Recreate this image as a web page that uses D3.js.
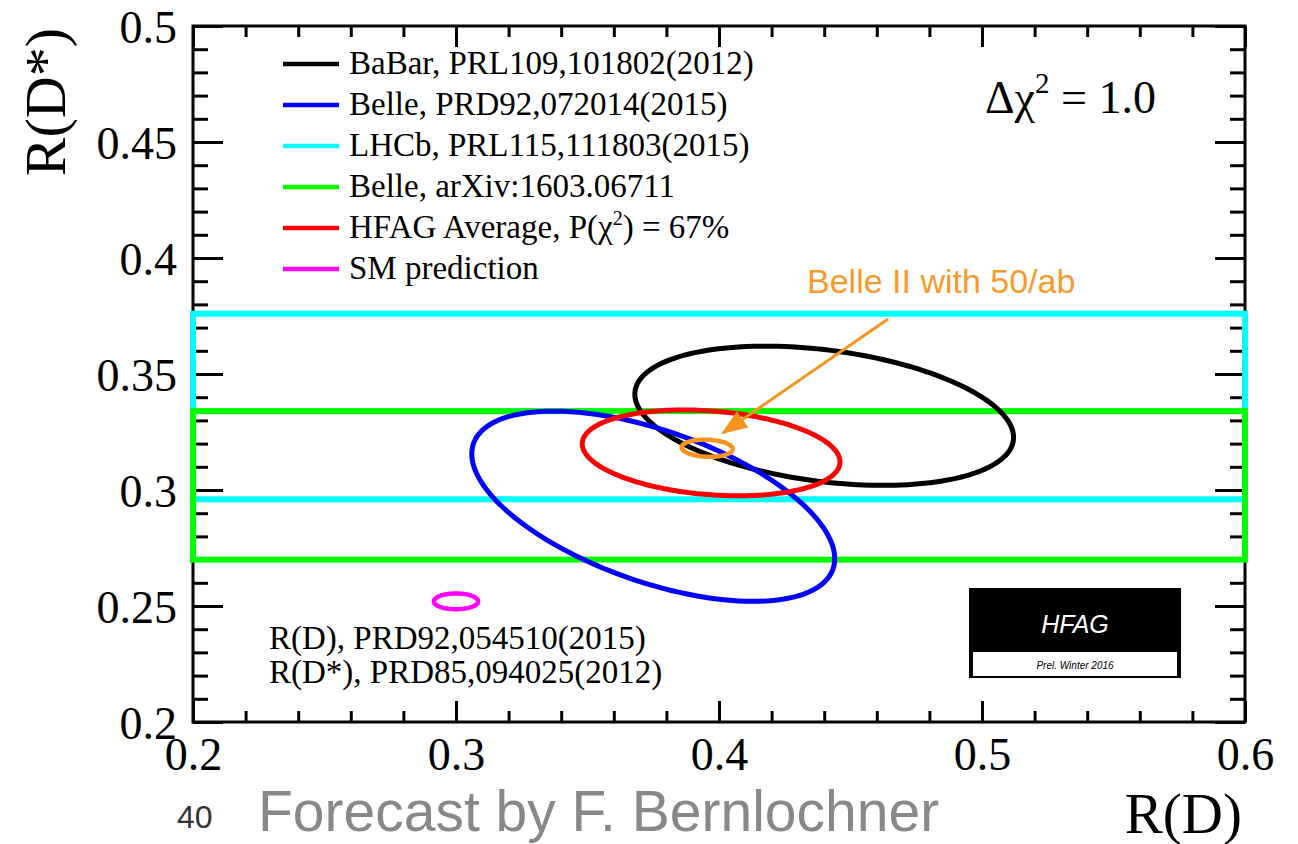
<!DOCTYPE html>
<html>
<head>
<meta charset="utf-8">
<script src="https://cdn.jsdelivr.net/npm/d3@7/dist/d3.min.js"></script>
<style>
  body { margin: 0; background: #fff; }
  svg { display: block; }
  .serif { font-family: "Liberation Serif", "Times New Roman", serif; }
  .sans { font-family: "Liberation Sans", Arial, sans-serif; }
</style>
</head>
<body>
<div id="chart"></div>
<script>
// ---- data ----
// 2D measurements (Delta chi2 = 1 contours)
var ellipseNames = ["BaBar", "Belle 2015", "HFAG Average", "SM", "Belle II 50/ab"];
var ellipseRD = [0.440, 0.375, 0.397, 0.300, 0.3955];
var ellipseRDErr = [0.072, 0.069, 0.049, 0.0084, 0.0097];
var ellipseRDs = [0.332, 0.293, 0.316, 0.252, 0.318];
var ellipseRDsErr = [0.030, 0.041, 0.0185, 0.0034, 0.0037];
var ellipseRho = [-0.31, -0.55, -0.21, 0.0, -0.1];
var ellipseColors = ["#000000", "#0000ff", "#ff0000", "#ff00ff", "#f7941d"];
var ellipseWidths = [5, 5, 5, 4.5, 4.5];

// R(D*)-only measurements (bands)
var bandNames = ["LHCb", "Belle arXiv"];
var bandRDs = [0.336, 0.302];
var bandRDsErr = [0.040, 0.032];
var bandColors = ["#00ffff", "#00ff00"];

// legend
var legendLabels = [
  "BaBar, PRL109,101802(2012)",
  "Belle, PRD92,072014(2015)",
  "LHCb, PRL115,111803(2015)",
  "Belle, arXiv:1603.06711",
  "HFAG Average, P(\u03c7|2|) = 67%",
  "SM prediction"
];
var legendColors = ["#000000", "#0000ff", "#00ffff", "#00ff00", "#ff0000", "#ff00ff"];

// axes
var xMajorTicks = [0.2, 0.3, 0.4, 0.5, 0.6];
var yMajorTicks = [0.2, 0.25, 0.3, 0.35, 0.4, 0.45, 0.5];
var xMinorStep = 0.02, yMinorStep = 0.01;

// arrow for the Belle II forecast
var arrowFrom = [0.4643, 0.3737];
var arrowTo = [0.4015, 0.3246];

// ---- layout ----
var W = 1298, H = 844;
var frame = { left: 193, right: 1245, top: 26, bottom: 722 };

var svg = d3.select("#chart").append("svg")
    .attr("width", W)
    .attr("height", H);

var x = d3.scaleLinear().domain([0.2, 0.6]).range([frame.left, frame.right]);
var y = d3.scaleLinear().domain([0.2, 0.5]).range([frame.bottom, frame.top]);

function minors(lo, hi, step, majors) {
    var n = Math.round((hi - lo) / step);
    return d3.range(n + 1).map(function (i) { return +(lo + i * step).toFixed(4); })
        .filter(function (v) { return majors.every(function (m) { return Math.abs(m - v) > 1e-6; }); });
}
var xMinorTicks = minors(0.2, 0.6, xMinorStep, xMajorTicks);
var yMinorTicks = minors(0.2, 0.5, yMinorStep, yMajorTicks);
var fmt = function (d) { return String(+d.toFixed(2)); };

// ---- frame + ticks ----
svg.append("rect")
    .attr("x", frame.left).attr("y", frame.top)
    .attr("width", frame.right - frame.left)
    .attr("height", frame.bottom - frame.top)
    .attr("fill", "none").attr("stroke", "#000").attr("stroke-width", 3);

function axisGroup(axis, tx, ty) {
    var g = svg.append("g")
        .attr("transform", "translate(" + tx + "," + ty + ")")
        .call(axis);
    g.select(".domain").remove();
    g.selectAll(".tick line").attr("stroke", "#000").attr("stroke-width", 3);
    return g;
}

var gl = axisGroup(d3.axisLeft(y).tickValues(yMajorTicks).tickSize(-30).tickPadding(16).tickFormat(fmt), frame.left, 0);
gl.selectAll(".tick text").attr("class", "serif").attr("font-size", 46).attr("fill", "#000").attr("dy", "0.36em");
axisGroup(d3.axisLeft(y).tickValues(yMinorTicks).tickSize(-15).tickFormat(""), frame.left, 0);
axisGroup(d3.axisRight(y).tickValues(yMajorTicks).tickSize(-30).tickFormat(""), frame.right, 0);
axisGroup(d3.axisRight(y).tickValues(yMinorTicks).tickSize(-15).tickFormat(""), frame.right, 0);

var gb = axisGroup(d3.axisBottom(x).tickValues(xMajorTicks).tickSize(-21).tickPadding(15).tickFormat(fmt), 0, frame.bottom);
gb.selectAll(".tick text").attr("class", "serif").attr("font-size", 46).attr("fill", "#000");
axisGroup(d3.axisBottom(x).tickValues(xMinorTicks).tickSize(-11).tickFormat(""), 0, frame.bottom);
axisGroup(d3.axisTop(x).tickValues(xMajorTicks).tickSize(-21).tickFormat(""), 0, frame.top);
axisGroup(d3.axisTop(x).tickValues(xMinorTicks).tickSize(-11).tickFormat(""), 0, frame.top);

// axis titles
svg.append("text").attr("class", "serif")
    .attr("transform", "translate(65," + (frame.top + 2) + ") rotate(-90)")
    .attr("text-anchor", "end").attr("font-size", 58)
    .text("R(D*)");
svg.append("text").attr("class", "serif")
    .attr("x", frame.right - 3).attr("y", 833)
    .attr("text-anchor", "end").attr("font-size", 57)
    .text("R(D)");

// ---- bands (R(D*) only) ----
bandRDs.forEach(function (v, i) {
    svg.append("rect")
        .attr("x", x(0.2)).attr("y", y(v + bandRDsErr[i]))
        .attr("width", x(0.6) - x(0.2))
        .attr("height", y(v - bandRDsErr[i]) - y(v + bandRDsErr[i]))
        .attr("fill", "none")
        .attr("stroke", bandColors[i])
        .attr("stroke-width", 6);
});

// ---- ellipses ----
var line = d3.line()
    .x(function (d) { return x(d[0]); })
    .y(function (d) { return y(d[1]); })
    .curve(d3.curveLinearClosed);

function contour(i) {
    var rho = ellipseRho[i], s = Math.sqrt(1 - rho * rho);
    return d3.range(180).map(function (k) {
        var t = 2 * Math.PI * k / 180;
        return [ellipseRD[i] + ellipseRDErr[i] * Math.cos(t),
                ellipseRDs[i] + ellipseRDsErr[i] * (rho * Math.cos(t) + s * Math.sin(t))];
    });
}

svg.selectAll("path.ellipse")
    .data(d3.range(ellipseNames.length))
    .enter().append("path")
    .attr("class", "ellipse")
    .attr("d", function (i) { return line(contour(i)); })
    .attr("fill", "none")
    .attr("stroke", function (i) { return ellipseColors[i]; })
    .attr("stroke-width", function (i) { return ellipseWidths[i]; });

// ---- Belle II arrow + label ----
svg.append("defs").append("marker")
    .attr("id", "head")
    .attr("markerUnits", "userSpaceOnUse")
    .attr("viewBox", "0 -11 26 22")
    .attr("markerWidth", 26).attr("markerHeight", 22)
    .attr("refX", 24).attr("refY", 0)
    .attr("orient", "auto")
    .append("path").attr("d", "M0,-10L26,0L0,10Z").attr("fill", "#f7941d");

svg.append("line")
    .attr("x1", x(arrowFrom[0])).attr("y1", y(arrowFrom[1]))
    .attr("x2", x(arrowTo[0])).attr("y2", y(arrowTo[1]))
    .attr("stroke", "#f7941d").attr("stroke-width", 3)
    .attr("marker-end", "url(#head)");

svg.append("text").attr("class", "sans")
    .attr("x", 807).attr("y", 293)
    .attr("font-size", 34).attr("fill", "#f79a2e")
    .text("Belle II with 50/ab");

// ---- legend ----
var leg = svg.append("g").attr("class", "serif");
legendLabels.forEach(function (lab, i) {
    var ly = 64 + i * 41;
    leg.append("line")
        .attr("x1", 283).attr("x2", 339).attr("y1", ly).attr("y2", ly)
        .attr("stroke", legendColors[i]).attr("stroke-width", 4.5);
    var t = leg.append("text").attr("x", 349).attr("y", ly + 10).attr("font-size", 33);
    var parts = lab.split("|");
    t.append("tspan").text(parts[0]);
    if (parts.length > 1) {
        t.append("tspan").attr("dy", -13).attr("font-size", 20).text(parts[1]);
        t.append("tspan").attr("dy", 13).text(parts[2]);
    }
});

// delta chi2 label
var dc = svg.append("text").attr("class", "serif")
    .attr("x", 985).attr("y", 113).attr("font-size", 46);
dc.append("tspan").text("\u0394\u03c7");
dc.append("tspan").attr("dy", -20).attr("font-size", 29).text("2");
dc.append("tspan").attr("dy", 20).text(" = 1.0");

// SM reference text
svg.append("text").attr("class", "serif")
    .attr("x", 269).attr("y", 649).attr("font-size", 33)
    .text("R(D), PRD92,054510(2015)");
svg.append("text").attr("class", "serif")
    .attr("x", 269).attr("y", 683).attr("font-size", 33)
    .text("R(D*), PRD85,094025(2012)");

// ---- HFAG logo ----
var logo = svg.append("g");
logo.append("rect").attr("x", 969).attr("y", 588).attr("width", 212).attr("height", 90).attr("fill", "#000");
logo.append("rect").attr("x", 973).attr("y", 652).attr("width", 204).attr("height", 24).attr("fill", "#fff");
logo.append("text").attr("class", "sans")
    .attr("x", 1075).attr("y", 633).attr("text-anchor", "middle")
    .attr("font-size", 25).attr("font-style", "italic").attr("fill", "#fff")
    .text("HFAG");
logo.append("text").attr("class", "sans")
    .attr("x", 1075).attr("y", 669).attr("text-anchor", "middle")
    .attr("font-size", 10).attr("font-style", "italic").attr("fill", "#000")
    .text("Prel. Winter 2016");

// ---- slide footer ----
svg.append("text").attr("class", "sans")
    .attr("x", 177).attr("y", 828).attr("font-size", 32).attr("fill", "#333")
    .text("40");
svg.append("text").attr("class", "sans")
    .attr("x", 258).attr("y", 831).attr("font-size", 57).attr("fill", "#888")
    .text("Forecast by F. Bernlochner");
</script>
</body>
</html>
